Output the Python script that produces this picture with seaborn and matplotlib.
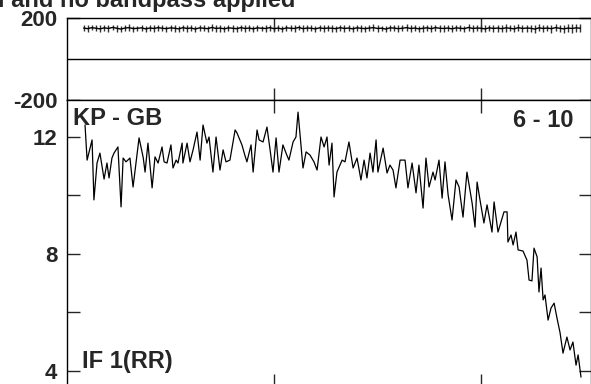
import matplotlib
matplotlib.use('Agg')
import matplotlib.pyplot as plt
import seaborn as sns

# amplitude spectrum (channel, amplitude)
chan = [8.7, 9.7, 12.1, 13.0, 14.5, 15.9, 17.9, 19.3, 20.3, 21.7, 22.7, 23.7, 24.6, 26.1, 27.1,
        28.5, 30.4, 31.9, 34.8, 36.8, 37.7, 39.1, 41.1, 42.5, 44.0, 45.9, 46.9, 48.3, 50.2, 51.2,
        52.7, 53.6, 55.6, 56.0, 58.0, 59.4, 60.9, 62.8, 64.3, 65.7, 67.6, 68.6, 70.5, 72.0, 73.9,
        75.4, 76.8, 78.7, 81.2, 82.1, 84.5, 85.9, 86.9, 88.9, 89.9, 91.8, 92.8, 94.7, 96.6, 98.1,
        99.5, 101.0, 102.4, 104.3, 105.8, 107.2, 109.2, 110.6, 111.6, 114.0, 115.5, 117.4, 119.3,
        120.8, 122.7, 124.2, 125.6, 126.6, 128.0, 129.0, 130.4, 132.9, 134.3, 136.2, 138.2, 140.1,
        142.0, 143.5, 144.9, 146.4, 147.8, 149.3, 150.2, 152.7, 154.6, 156.0, 157.5, 158.9, 160.9,
        163.3, 164.7, 166.7, 168.6, 170.0, 172.0, 173.4, 174.9, 176.8, 177.8, 179.7, 181.2, 182.6,
        184.1, 186.0, 187.9, 189.4, 191.3, 193.2, 195.7, 197.1, 198.1, 199.5, 201.4, 202.9, 205.3,
        206.3, 208.2, 211.1, 212.6, 213.0, 214.5, 215.5, 216.9, 217.9, 220.3, 222.2, 223.2, 224.6,
        225.6, 227.1, 228.0, 229.0, 230.0, 230.9, 232.4, 233.8, 235.3, 236.7, 238.2, 239.6, 241.5,
        243.0, 244.4, 245.9, 246.9, 248.3]
amp = [12.41, 11.21, 11.90, 9.85, 11.11, 11.45, 10.56, 11.11, 10.60, 11.28, 11.45, 11.56, 11.66,
       9.61, 11.28, 11.15, 11.28, 10.29, 11.97, 11.30, 10.80, 11.79, 10.26, 11.32, 11.11, 11.66,
       11.15, 11.11, 11.73, 10.94, 11.21, 11.11, 11.79, 11.11, 11.79, 11.15, 11.56, 12.17, 11.21,
       12.41, 11.79, 12.00, 10.80, 12.00, 10.87, 11.56, 11.15, 11.21, 12.24, 12.14, 11.73, 11.38,
       11.15, 11.73, 10.80, 12.24, 11.90, 11.83, 12.34, 11.56, 10.80, 11.97, 10.80, 11.73, 11.45,
       11.21, 11.83, 12.00, 12.85, 10.94, 11.49, 11.38, 11.15, 10.87, 12.00, 11.66, 12.00, 11.04,
       11.79, 9.95, 10.80, 11.21, 11.15, 11.83, 10.94, 11.28, 10.53, 11.21, 10.60, 11.45, 10.80,
       11.90, 10.80, 11.62, 10.77, 11.04, 10.87, 10.26, 11.21, 11.21, 10.26, 11.11, 10.09, 11.04,
       9.57, 11.28, 10.29, 10.80, 10.53, 11.21, 9.91, 11.15, 10.02, 9.16, 10.53, 10.29, 9.26,
       10.80, 9.74, 8.92, 10.46, 9.85, 9.06, 9.68, 8.75, 9.78, 8.75, 9.44, 9.44, 8.41, 8.65, 8.31,
       8.75, 8.14, 8.10, 7.79, 7.11, 7.08, 8.20, 7.90, 6.70, 7.52, 6.43, 6.60, 5.74, 6.15, 6.32,
       5.81, 5.30, 4.61, 5.16, 4.72, 4.99, 4.20, 4.55, 3.79]

# phase spectrum with error bars
phase_chan = list(range(8, 249, 2))
phase = [151, 148, 153, 150, 147, 152, 149, 154, 150, 146, 151, 153, 148, 150, 152, 147, 151, 149, 153, 150,
         148, 152, 150, 147, 153, 149, 151, 146, 152, 150, 148, 154, 149, 151, 147, 152, 150, 148, 153, 149,
         151, 147, 152, 150, 149, 153, 148, 151, 146, 152, 150, 149, 154, 148, 151, 150, 147, 152, 149, 151,
         150, 148, 153, 149, 151, 147, 152, 150, 148, 151, 153, 149, 150, 146, 152, 151, 148, 150, 153, 149,
         151, 147, 150, 152, 148, 153, 150, 149, 151, 147, 152, 150, 148, 154, 149, 151, 150, 147, 152, 149,
         151, 148, 152, 150, 147, 153, 149, 151, 150, 146, 152, 149, 151, 148, 153, 150, 147, 151, 149, 152,
         150]
phase_err = [14, 16, 13, 15, 17, 14, 15, 13, 16, 14, 15, 17, 14, 13, 16, 15, 14, 17, 15, 14,
             15, 13, 16, 14, 15, 17, 14, 16, 13, 15, 14, 16, 15, 17, 14, 13, 16, 15, 14, 16,
             14, 16, 15, 13, 17, 14, 15, 16, 14, 13, 15, 17, 14, 16, 15, 14, 13, 16, 15, 14,
             16, 14, 15, 17, 13, 15, 14, 16, 15, 14, 17, 15, 13, 16, 14, 15, 17, 14, 16, 15,
             15, 14, 16, 15, 17, 14, 16, 15, 14, 17, 16, 15, 14, 16, 18, 15, 16, 17, 15, 16,
             17, 16, 18, 15, 17, 16, 18, 17, 16, 19, 17, 18, 16, 19, 18, 17, 19, 18, 20, 19,
             20]

sns.set_style('ticks')
plt.rcParams['font.family'] = ['Liberation Sans', 'DejaVu Sans']
plt.rcParams['font.weight'] = 'bold'

fig = plt.figure(figsize=(5.91, 3.84), dpi=100)
ax1 = fig.add_axes([0.1134, 0.7396, 0.8858, 0.2135])
ax2 = fig.add_axes([0.1134, -0.0052, 0.8858, 0.7448])

# top panel: phase
ax1.errorbar(phase_chan, phase, yerr=phase_err, fmt='none', ecolor='0.2', elinewidth=1.0)
sns.lineplot(x=phase_chan, y=phase, ax=ax1, color='black', lw=1.0, estimator=None)
ax1.axhline(0, color='black', lw=1)
ax1.set_ylim(-200, 200)
ax1.set_yticks([-200, 200])
ax1.set_yticklabels(['-200', '200'])

# bottom panel: amplitude
sns.lineplot(x=chan, y=amp, ax=ax2, color='black', lw=0.9, estimator=None, sort=False)
ax2.set_ylim(3.487, 13.265)
ax2.set_yticks([4, 6, 8, 10, 12])
ax2.set_yticklabels(['4', '', '8', '', '12'])

for ax in (ax1, ax2):
    ax.set_xlim(0, 252.9)
    ax.set_xticks([100, 200])
    ax.set_xlabel('')
    ax.set_ylabel('')
    ax.tick_params(direction='in', top=True, right=True, length=9, width=1,
                   labelsize=16, pad=7, labelbottom=False)
    for s in ax.spines.values():
        s.set_linewidth(1)
        s.set_color('black')

ax2.text(0.0115, 0.975, 'KP - GB', transform=ax2.transAxes, ha='left', va='top',
         fontsize=17, fontweight='bold')
ax2.text(0.9666, 0.968, '6 - 10', transform=ax2.transAxes, ha='right', va='top',
         fontsize=17, fontweight='bold')
ax2.text(0.0287, 0.063, 'IF 1(RR)', transform=ax2.transAxes, ha='left', va='baseline',
         fontsize=17, fontweight='bold')
fig.text(0.499, 0.982, 'Calibration applied and no bandpass applied', ha='right',
         va='baseline', fontsize=17, fontweight='bold')

fig.savefig('out.png', dpi=100)
